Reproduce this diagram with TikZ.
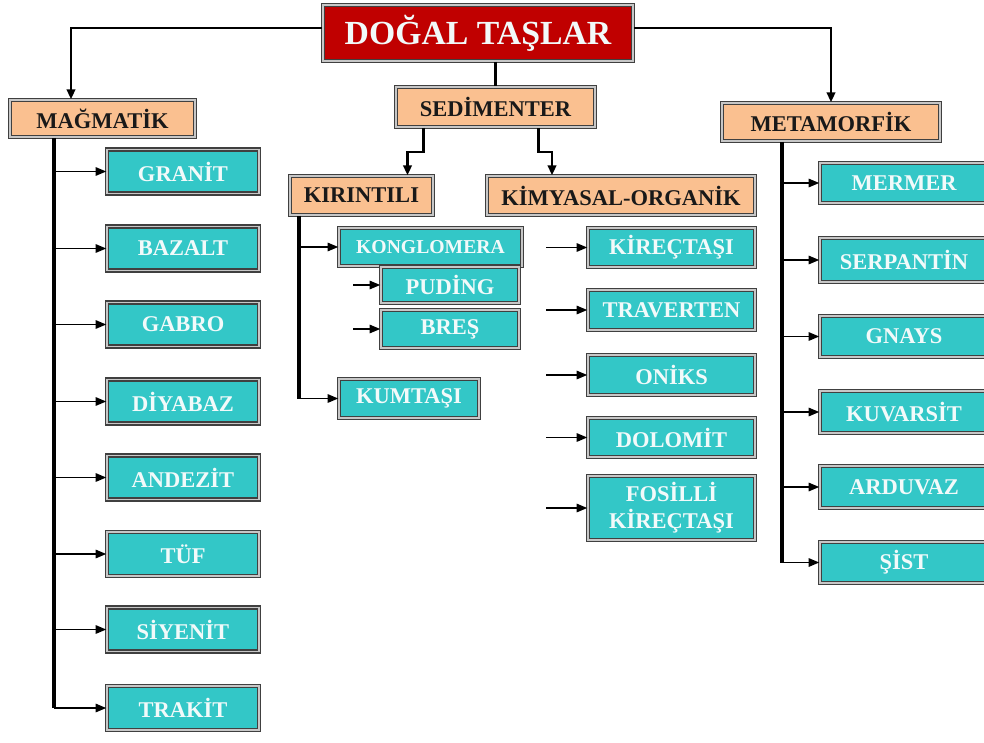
\documentclass[tikz,border=0pt]{standalone}
\usepackage{fontspec}
\setmainfont{Liberation Serif}
\usetikzlibrary{arrows.meta}
\newdimen\pxu \pxu=0.025cm
\definecolor{titlered}{RGB}{192,0,0}
\definecolor{peach}{RGB}{250,192,144}
\definecolor{rockteal}{RGB}{51,199,199}
\definecolor{rocktext}{RGB}{242,250,250}
\tikzset{
	rim/.style={draw=black!75,double=black!22,double distance=0.8pt,line width=1.1pt,inner sep=0pt,font=\bfseries\fontsize{16}{19}\selectfont},
	size/.style 2 args={minimum width=#1\pxu,minimum height=#2\pxu},
	titlebox/.style={rim,fill=titlered,text=rocktext,font=\bfseries\fontsize{24}{28}\selectfont},
	groupbox/.style={rim,fill=peach,text=black!90},
	rockbox/.style={rim,fill=rockteal,text=rocktext},
	trunk/.style={line width=2.6pt},
	feed/.style={line width=1.8pt,-{Triangle[length=7pt,width=6pt]}},
	arr/.style={line width=1.1pt,-{Triangle[length=7.5pt,width=6pt]}}
}
\begin{document}
\begin{tikzpicture}[x=0.025cm,y=-0.025cm]
		\useasboundingbox (0,0) rectangle (984,742);
		\clip (0,0) rectangle (984,742);
		% top and groups
		\node[titlebox,size={310}{56}](title) at (478,33) {DOĞAL TAŞLAR};
		\node[groupbox,size={185}{37}](mag) at (102.5,118.5) {MAĞMATİK};
		\node[groupbox,size={199}{40}](sed) at (495.5,107) {SEDİMENTER};
		\node[groupbox,size={218}{38}](meta) at (831,122) {METAMORFİK};
		\node[groupbox,size={143}{39}](kir) at (361.5,195.5) {KIRINTILI};
		\node[groupbox,size={268}{39}](kim) at (621,195.5) {KİMYASAL-ORGANİK};
		% magmatik
		\node[rockbox,size={152}{44}](granit) at (183,171.5) {GRANİT};
		\node[rockbox,size={152}{44}](bazalt) at (183,248.5) {BAZALT};
		\node[rockbox,size={152}{44}](gabro) at (183,324.5) {GABRO};
		\node[rockbox,size={152}{44}](diyabaz) at (183,401.5) {DİYABAZ};
		\node[rockbox,size={152}{44}](andezit) at (183,477.5) {ANDEZİT};
		\node[rockbox,size={152}{44}](tuf) at (183,554) {TÜF};
		\node[rockbox,size={152}{44}](siyenit) at (183,629.5) {SİYENİT};
		\node[rockbox,size={152}{44}](trakit) at (183,708) {TRAKİT};
		% kirintili
		\node[rockbox,size={183}{38},font=\bfseries\fontsize{14}{17}\selectfont](kong) at (430.5,247) {KONGLOMERA};
		\node[rockbox,size={138}{36}](puding) at (450,285) {PUDİNG};
		\node[rockbox,size={138}{38}](bres) at (450,329) {BREŞ};
		\node[rockbox,size={140}{39}](kum) at (409,398.5) {KUMTAŞI};
		% kimyasal-organik
		\node[rockbox,size={167}{39}](kirec) at (671.5,247.5) {KİREÇTAŞI};
		\node[rockbox,size={167}{40}](trav) at (671.5,310) {TRAVERTEN};
		\node[rockbox,size={167}{40}](oniks) at (671.5,375) {ONİKS};
		\node[rockbox,size={167}{39}](dolo) at (671.5,437.5) {DOLOMİT};
		\node[rockbox,size={167}{64},align=center](fosil) at (671.5,508) {FOSİLLİ\\KİREÇTAŞI};
		% metamorfik
		\node[rockbox,size={168}{40}](mermer) at (904,183) {MERMER};
		\node[rockbox,size={168}{44}](serp) at (904,260) {SERPANTİN};
		\node[rockbox,size={168}{41}](gnays) at (904,336.5) {GNAYS};
		\node[rockbox,size={168}{42}](kuv) at (904,412) {KUVARSİT};
		\node[rockbox,size={168}{42}](ard) at (904,487) {ARDUVAZ};
		\node[rockbox,size={168}{41}](sist) at (904,562.5) {ŞİST};
		% connectors
		\draw[feed] ([yshift=5\pxu]title.west) -| ([xshift=-31.5\pxu]mag.north);
		\draw[feed] ([yshift=5\pxu]title.east) -| (meta.north);
		\draw[line width=1.8pt] (sed.north |- title.south) -- (sed.north);
		\draw[feed] ([xshift=-72\pxu]sed.south) -- ++(0,24) -| ([xshift=46\pxu]kir.north);
		\draw[feed] ([xshift=43\pxu]sed.south) -- ++(0,24) -| ([xshift=-69\pxu]kim.north);
		\coordinate (mtop) at ([xshift=45\pxu]mag.south west);
		\coordinate (ktop) at ([xshift=10\pxu]kir.south west);
		\coordinate (etop) at ([xshift=61\pxu]meta.south west);
		\draw[trunk] (mtop) -- (mtop |- trakit.west);
		\draw[trunk] (ktop) -- (ktop |- kum.west);
		\draw[trunk] (etop) -- (etop |- sist.west);
		\foreach \n in {granit,bazalt,gabro,diyabaz,andezit,tuf,siyenit,trakit}
			\draw[arr] (mtop |- \n.west) -- (\n.west);
		\foreach \n in {kong,kum}
			\draw[arr] (ktop |- \n.west) -- (\n.west);
		\foreach \n in {mermer,serp,gnays,kuv,ard,sist}
			\draw[arr] (etop |- \n.west) -- (\n.west);
		\foreach \n in {puding,bres}
			\draw[arr] (\n.west) ++(-27,0) -- (\n.west);
		\foreach \n in {kirec,trav,oniks,dolo,fosil}
			\draw[arr] (\n.west) ++(-41,0) -- (\n.west);
	\end{tikzpicture}
\end{document}
